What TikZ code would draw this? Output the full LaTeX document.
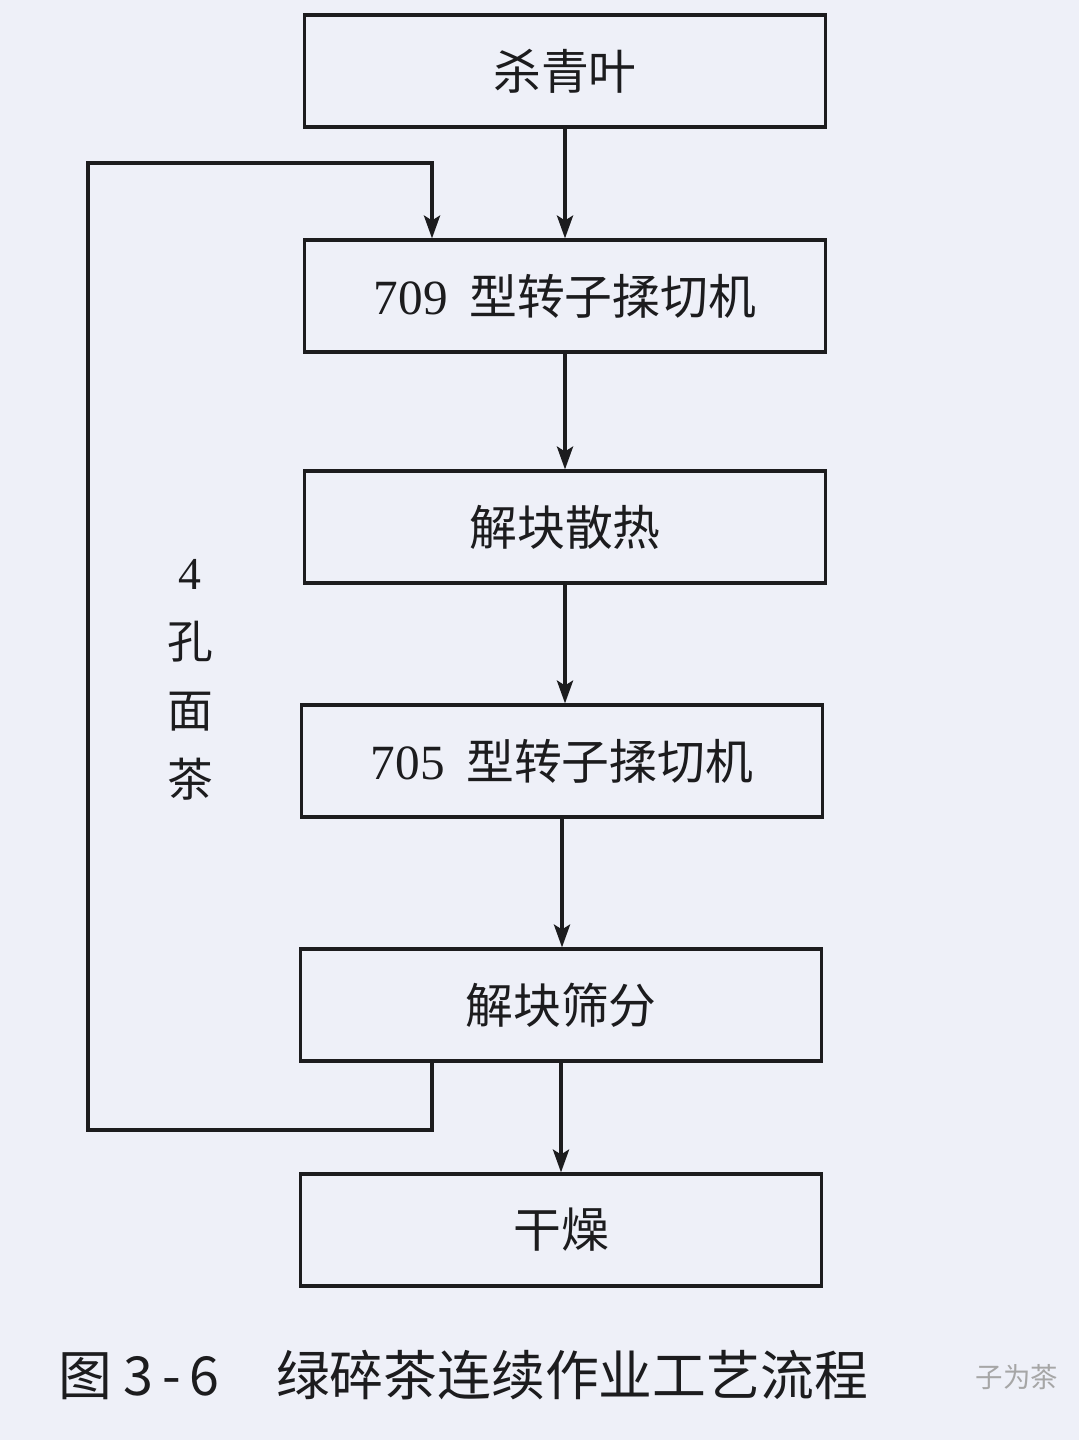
\documentclass[tikz,border=0pt]{standalone}
\usepackage{fontspec}
\setmainfont{Liberation Serif}
\newfontfamily\cjk{Noto Sans CJK SC}
\usepackage{xcolor}
\usepackage{tikz}
\usetikzlibrary{positioning,arrows.meta,calc}
\definecolor{pagebg}{RGB}{238,240,248}
\definecolor{ink}{RGB}{28,28,30}
\tikzset{
  stepbox/.style={draw=ink,line width=0.9pt,minimum width=5.2cm,minimum height=1.12cm,inner sep=0pt,font=\cjk\fontsize{13.6}{16}\selectfont,text=ink},
  flow/.style={draw=ink,line width=0.9pt,-{Stealth[length=6.5pt,width=4.6pt,inset=1.4pt]}}
}

\begin{document}
\begin{tikzpicture}[x=0.01cm,y=-0.01cm]
  \fill[pagebg] (0,0) rectangle (1079,1440);
  \useasboundingbox (0,0) rectangle (1079,1440);
  % process steps
  \foreach \n/\x/\y/\t in {1/565/71/杀青叶,
                           2/565/296/{{\rmfamily\fontsize{14}{16}\selectfont 709}\hspace{0.45em}型转子揉切机},
                           3/565/527/解块散热,
                           4/562/761/{{\rmfamily\fontsize{14}{16}\selectfont 705}\hspace{0.45em}型转子揉切机},
                           5/561/1005/解块筛分,
                           6/561/1230/干燥}
    \node[stepbox] (b\n) at (\x,\y) {\t};
  \foreach \a/\b in {1/2,2/3,3/4,4/5,5/6}
    \draw[flow] (b\a.south) -- (b\a.south |- b\b.north);
  % return of the 4-hole sieve fraction
  \coordinate (lp) at (432,0);
  \coordinate (loopB) at (88,1130);
  \coordinate (loopT) at (88,163);
  \draw[flow] (b5.south -| lp) |- (loopB) -- (loopT) -| (b2.north -| lp);
  \node[align=center,text=ink,font=\fontsize{13}{19.6}\selectfont] (lbl) at (190,680) {4\\{\cjk 孔}\\{\cjk 面}\\{\cjk 茶}};
  % caption
  \node[anchor=west,text=ink,inner sep=0pt,font=\cjk\fontsize{15.3}{18}\selectfont] (cap) at (58,1375) {图\hspace{0.2em}3\,-\,6\hspace{1.05em}绿碎茶连续作业工艺流程};
  \node[anchor=west,text=gray!70,inner sep=0pt,font=\cjk\fontsize{7.8}{10}\selectfont] (wm) at (975,1377) {子为茶};
\end{tikzpicture}
\end{document}
